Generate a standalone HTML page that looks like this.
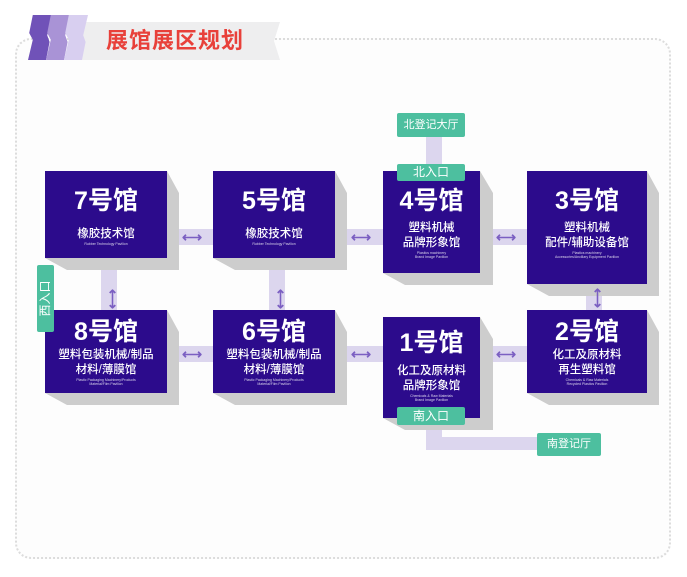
<!DOCTYPE html>
<html><head><meta charset="utf-8"><style>
*{margin:0;padding:0;box-sizing:border-box}
body{width:687px;height:577px;background:#fff;position:relative;overflow:hidden;font-family:"Liberation Sans","Noto Sans CJK SC",sans-serif}
.a{position:absolute}
.frame{left:15px;top:38px;width:656px;height:521px;border:2px dotted #dcdcdc;border-radius:16px;background:#fdfdfd}
.box{position:absolute;background:#2c0b8c;color:#fff;text-align:center}
.sh{position:absolute;background:#cdcdcd}
.t{font-size:25px;font-weight:bold;line-height:28px}
.s{font-size:11.5px;line-height:15px;font-weight:500}
.e{font-size:3.5px;line-height:4px;opacity:.8}
.band{position:absolute;background:#dcd6ee}
.arr{position:absolute;color:#7b5fc2;font-size:14px;line-height:14px;font-weight:bold}
.g{position:absolute;background:#4dbf9f;color:#fff;font-size:11px;text-align:center;border-radius:2px}
</style></head><body>
<div class="a frame"></div>
<!-- title -->
<div class="a" style="left:80px;top:22px;width:200px;height:38px;background:#eeeeef;clip-path:polygon(0 0,100% 0,97% 50%,100% 100%,0 100%)"></div>
<div class="a" style="left:28px;top:15px;width:24px;height:45px;background:#7052b8;clip-path:polygon(20% 0,100% 0,80% 45%,90% 60%,75% 100%,0 100%,20% 55%,5% 40%)"></div>
<div class="a" style="left:46px;top:15px;width:24px;height:45px;background:#a993d6;clip-path:polygon(20% 0,100% 0,80% 45%,90% 60%,75% 100%,0 100%,20% 55%,5% 40%)"></div>
<div class="a" style="left:64px;top:15px;width:24px;height:45px;background:#d8cff0;clip-path:polygon(20% 0,100% 0,80% 45%,90% 60%,75% 100%,0 100%,20% 55%,5% 40%)"></div>
<div class="a" style="left:106px;top:27px;font-size:22px;font-weight:bold;color:#e8403a;letter-spacing:1px;line-height:28px">展馆展区规划</div>

<!-- bands -->
<div class="band" style="left:165px;top:229px;width:50px;height:16px"></div>
<div class="band" style="left:333px;top:229px;width:52px;height:16px"></div>
<div class="band" style="left:478px;top:229px;width:51px;height:16px"></div>
<div class="band" style="left:165px;top:346px;width:50px;height:16px"></div>
<div class="band" style="left:333px;top:346px;width:52px;height:16px"></div>
<div class="band" style="left:478px;top:346px;width:51px;height:16px"></div>
<div class="band" style="left:101px;top:258px;width:16px;height:54px"></div>
<div class="band" style="left:269px;top:258px;width:16px;height:54px"></div>
<div class="band" style="left:586px;top:284px;width:16px;height:28px"></div>
<div class="band" style="left:426px;top:135px;width:16px;height:32px"></div>
<div class="band" style="left:426px;top:420px;width:16px;height:30px"></div>
<div class="band" style="left:426px;top:437px;width:115px;height:13px"></div>

<!-- shadows -->
<div class="sh" style="left:45px;top:171px;width:134px;height:99px;clip-path:polygon(122px 0,134px 22px,134px 99px,22px 99px,0 87px)"></div>
<div class="sh" style="left:213px;top:171px;width:134px;height:99px;clip-path:polygon(122px 0,134px 22px,134px 99px,22px 99px,0 87px)"></div>
<div class="sh" style="left:383px;top:171px;width:110px;height:114px;clip-path:polygon(97px 0,110px 22px,110px 114px,22px 114px,0 102px)"></div>
<div class="sh" style="left:527px;top:171px;width:132px;height:125px;clip-path:polygon(120px 0,132px 22px,132px 125px,22px 125px,0 113px)"></div>
<div class="sh" style="left:45px;top:310px;width:134px;height:95px;clip-path:polygon(122px 0,134px 22px,134px 95px,22px 95px,0 83px)"></div>
<div class="sh" style="left:213px;top:310px;width:134px;height:95px;clip-path:polygon(122px 0,134px 22px,134px 95px,22px 95px,0 83px)"></div>
<div class="sh" style="left:383px;top:317px;width:110px;height:113px;clip-path:polygon(97px 0,110px 22px,110px 113px,22px 113px,0 101px)"></div>
<div class="sh" style="left:527px;top:310px;width:132px;height:95px;clip-path:polygon(120px 0,132px 22px,132px 95px,22px 95px,0 83px)"></div>

<!-- boxes -->
<div class="box" style="left:45px;top:171px;width:122px;height:87px;padding-top:16px"><div class="t">7号馆</div><div class="s" style="margin-top:12px">橡胶技术馆</div><div class="e">Rubber Technology Pavilion</div></div>
<div class="box" style="left:213px;top:171px;width:122px;height:87px;padding-top:16px"><div class="t">5号馆</div><div class="s" style="margin-top:12px">橡胶技术馆</div><div class="e">Rubber Technology Pavilion</div></div>
<div class="box" style="left:383px;top:171px;width:97px;height:102px;padding-top:16px"><div class="t">4号馆</div><div class="s" style="margin-top:6px">塑料机械<br>品牌形象馆</div><div class="e">Plastics machinery<br>Brand Image Pavilion</div></div>
<div class="box" style="left:527px;top:171px;width:120px;height:113px;padding-top:16px"><div class="t">3号馆</div><div class="s" style="margin-top:6px">塑料机械<br>配件/辅助设备馆</div><div class="e">Plastics machinery<br>Accessories/Ancillary Equipment Pavilion</div></div>
<div class="box" style="left:45px;top:310px;width:122px;height:83px;padding-top:8px"><div class="t">8号馆</div><div class="s" style="margin-top:2px">塑料包装机械/制品<br>材料/薄膜馆</div><div class="e">Plastic Packaging Machinery/Products<br>Material/Film Pavilion</div></div>
<div class="box" style="left:213px;top:310px;width:122px;height:83px;padding-top:8px"><div class="t">6号馆</div><div class="s" style="margin-top:2px">塑料包装机械/制品<br>材料/薄膜馆</div><div class="e">Plastic Packaging Machinery/Products<br>Material/Film Pavilion</div></div>
<div class="box" style="left:383px;top:317px;width:97px;height:101px;padding-top:12px"><div class="t">1号馆</div><div class="s" style="margin-top:7px">化工及原材料<br>品牌形象馆</div><div class="e">Chemicals &amp; Raw Materials<br>Brand Image Pavilion</div></div>
<div class="box" style="left:527px;top:310px;width:120px;height:83px;padding-top:8px"><div class="t">2号馆</div><div class="s" style="margin-top:2px">化工及原材料<br>再生塑料馆</div><div class="e">Chemicals &amp; Raw Materials<br>Recycled Plastics Pavilion</div></div>

<!-- arrows -->
<div class="arr" style="left:182px;top:230px">⟷</div>
<div class="arr" style="left:351px;top:230px">⟷</div>
<div class="arr" style="left:496px;top:230px">⟷</div>
<div class="arr" style="left:182px;top:347px">⟷</div>
<div class="arr" style="left:351px;top:347px">⟷</div>
<div class="arr" style="left:496px;top:347px">⟷</div>
<div class="arr" style="left:103px;top:292px;transform:rotate(90deg)">⟷</div>
<div class="arr" style="left:271px;top:292px;transform:rotate(90deg)">⟷</div>
<div class="arr" style="left:588px;top:291px;transform:rotate(90deg)">⟷</div>

<!-- green labels -->
<div class="g" style="left:397px;top:113px;width:68px;height:24px;line-height:24px">北登记大厅</div>
<div class="g" style="left:397px;top:164px;width:68px;height:17px;line-height:17px;font-size:12px">北入口</div>
<div class="g" style="left:397px;top:407px;width:68px;height:18px;line-height:18px;font-size:12px">南入口</div>
<div class="g" style="left:537px;top:433px;width:64px;height:23px;line-height:23px">南登记厅</div>
<div class="g" style="left:37px;top:265px;width:17px;height:67px"></div>
<div class="a" style="left:12px;top:290px;width:67px;height:17px;line-height:17px;font-size:12px;color:#fff;text-align:center;transform:rotate(-90deg)">西入口</div>
</body></html>
